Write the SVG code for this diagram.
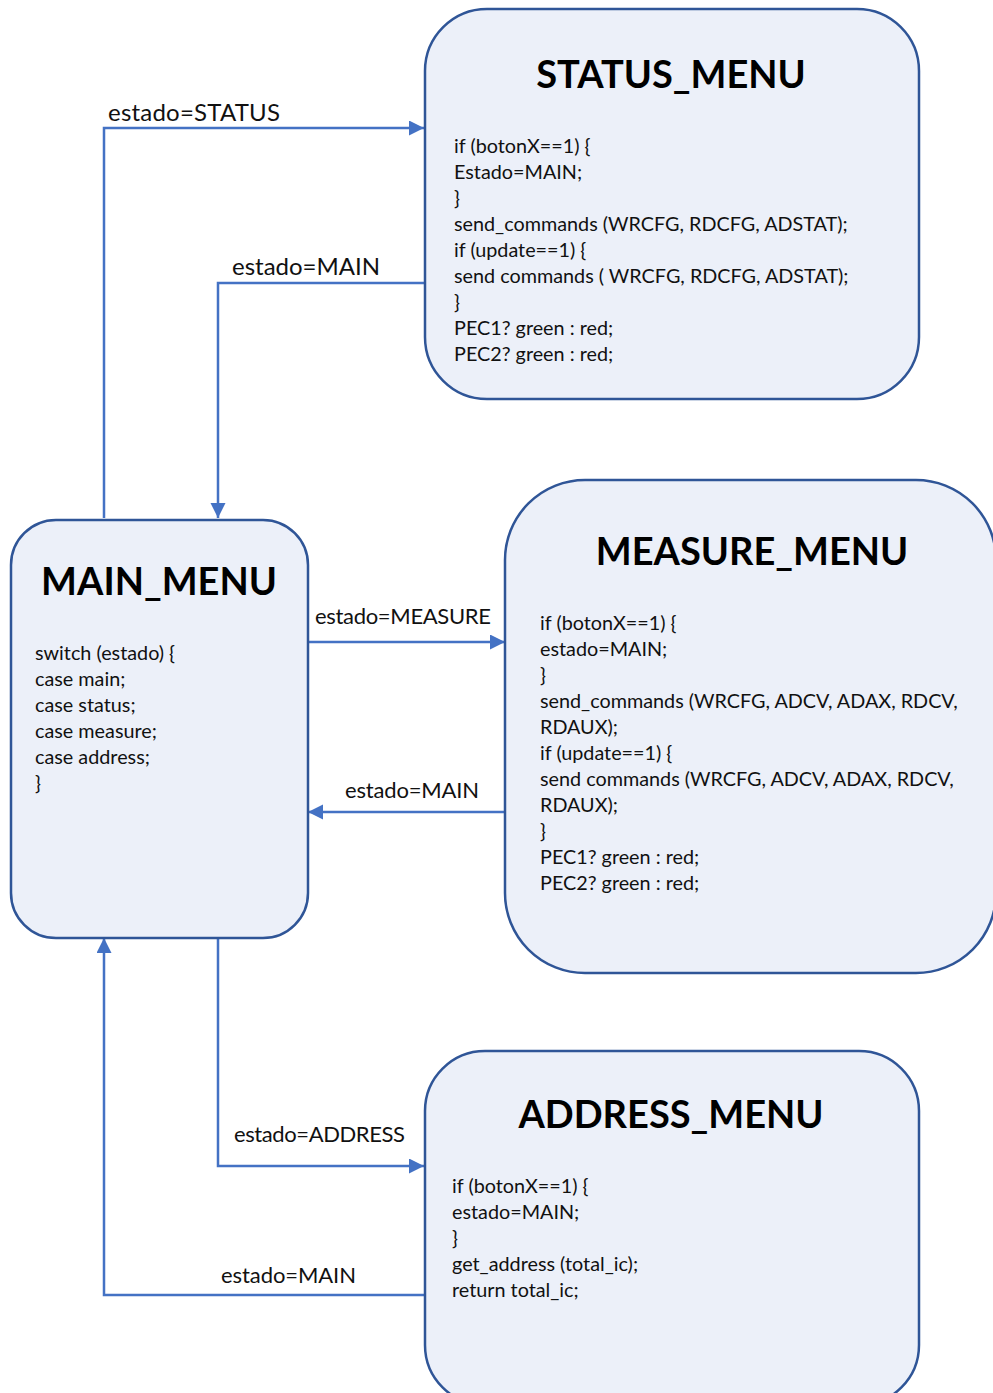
<svg xmlns="http://www.w3.org/2000/svg" width="993" height="1393" viewBox="0 0 993 1393">
  <style>
    .box { fill: #ECF0F9; stroke: #2F5597; stroke-width: 2.5; }
    .title { font-family: "Lato", "Noto Sans", sans-serif; font-weight: bold; font-size: 38px; fill: #000; text-anchor: middle; }
    .code { font-family: "Lato", "Noto Sans", sans-serif; font-size: 19.8px; fill: #111; }
    .lbl { font-family: "Lato", "Noto Sans", sans-serif; font-size: 22px; fill: #111; }
    .lbl-lg { font-size: 24px; }
    .wire { fill: none; stroke: #4472C4; stroke-width: 2.5; }
  </style>
  <defs>
    <marker id="arrow" markerUnits="userSpaceOnUse" markerWidth="16" markerHeight="16" refX="15" refY="7.5" orient="auto">
      <path d="M0,0 L15,7.5 L0,15 Z" fill="#4472C4"/>
    </marker>
  </defs>
  <rect width="993" height="1393" fill="#FFFFFF"/>

  <!-- transitions between menus -->
  <g id="connectors">
    <path class="wire" d="M104,518 V128 H424" marker-end="url(#arrow)"/>
    <text class="lbl lbl-lg" x="108" y="121" textLength="172">estado=STATUS</text>
    <path class="wire" d="M424,283 H218 V518" marker-end="url(#arrow)"/>
    <text class="lbl lbl-lg" x="232" y="275" textLength="148">estado=MAIN</text>
    <path class="wire" d="M308,642 H505" marker-end="url(#arrow)"/>
    <text class="lbl" x="315" y="624" textLength="176">estado=MEASURE</text>
    <path class="wire" d="M505,812 H308" marker-end="url(#arrow)"/>
    <text class="lbl" x="345" y="798" textLength="134">estado=MAIN</text>
    <path class="wire" d="M218,938 V1166 H424" marker-end="url(#arrow)"/>
    <text class="lbl" x="234" y="1142" textLength="171">estado=ADDRESS</text>
    <path class="wire" d="M424,1295 H104 V938" marker-end="url(#arrow)"/>
    <text class="lbl" x="221" y="1283" textLength="135">estado=MAIN</text>
  </g>

  <g id="status_menu">
    <rect class="box" x="425" y="9" width="494" height="390" rx="62" ry="62"/>
    <text class="title" x="671" y="88">STATUS_MENU</text>
    <text class="code" x="454" y="153">if (botonX==1) {</text>
    <text class="code" x="454" y="179">Estado=MAIN;</text>
    <text class="code" x="454" y="205">}</text>
    <text class="code" x="454" y="231">send_commands (WRCFG, RDCFG, ADSTAT);</text>
    <text class="code" x="454" y="257">if (update==1) {</text>
    <text class="code" x="454" y="283">send commands ( WRCFG, RDCFG, ADSTAT);</text>
    <text class="code" x="454" y="309">}</text>
    <text class="code" x="454" y="335">PEC1? green : red;</text>
    <text class="code" x="454" y="361">PEC2? green : red;</text>
  </g>

  <g id="main_menu">
    <rect class="box" x="11" y="520" width="297" height="418" rx="45" ry="45"/>
    <text class="title" x="159" y="595">MAIN_MENU</text>
    <text class="code" x="35" y="660">switch (estado) {</text>
    <text class="code" x="35" y="686">case main;</text>
    <text class="code" x="35" y="712">case status;</text>
    <text class="code" x="35" y="738">case measure;</text>
    <text class="code" x="35" y="764">case address;</text>
    <text class="code" x="35" y="790">}</text>
  </g>

  <g id="measure_menu">
    <rect class="box" x="505" y="480" width="491" height="493" rx="80" ry="80"/>
    <text class="title" x="752" y="565">MEASURE_MENU</text>
    <text class="code" x="540" y="630">if (botonX==1) {</text>
    <text class="code" x="540" y="656">estado=MAIN;</text>
    <text class="code" x="540" y="682">}</text>
    <text class="code" x="540" y="708">send_commands (WRCFG, ADCV, ADAX, RDCV,</text>
    <text class="code" x="540" y="734">RDAUX);</text>
    <text class="code" x="540" y="760">if (update==1) {</text>
    <text class="code" x="540" y="786">send commands (WRCFG, ADCV, ADAX, RDCV,</text>
    <text class="code" x="540" y="812">RDAUX);</text>
    <text class="code" x="540" y="838">}</text>
    <text class="code" x="540" y="864">PEC1? green : red;</text>
    <text class="code" x="540" y="890">PEC2? green : red;</text>
  </g>

  <g id="address_menu">
    <rect class="box" x="425" y="1051" width="494" height="354" rx="60" ry="60"/>
    <text class="title" x="671" y="1128">ADDRESS_MENU</text>
    <text class="code" x="452" y="1193">if (botonX==1) {</text>
    <text class="code" x="452" y="1219">estado=MAIN;</text>
    <text class="code" x="452" y="1245">}</text>
    <text class="code" x="452" y="1271">get_address (total_ic);</text>
    <text class="code" x="452" y="1297">return total_ic;</text>
  </g>
</svg>
